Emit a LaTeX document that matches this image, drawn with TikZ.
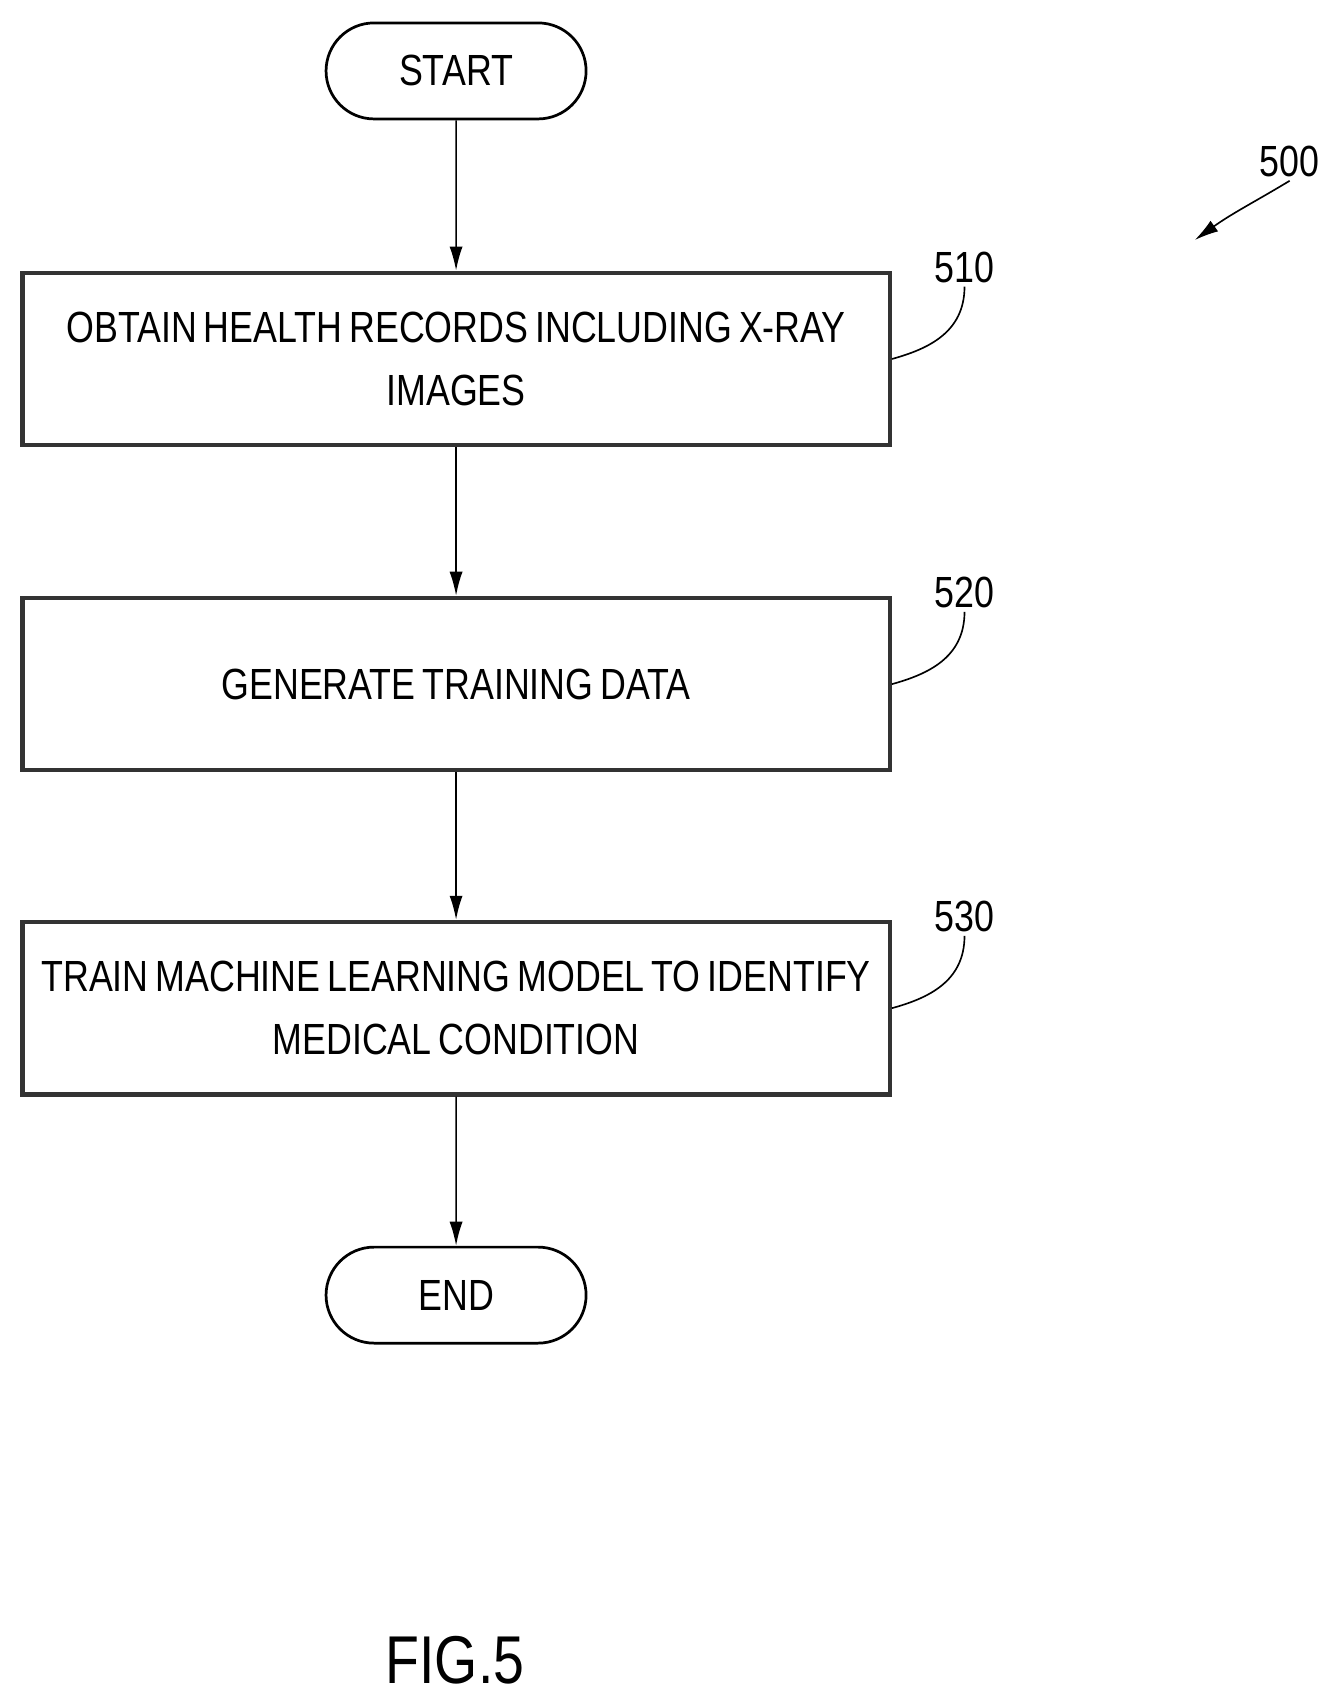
\documentclass[tikz,border=0pt]{standalone}
\usepackage{fontspec}
\setmainfont{Liberation Sans}[FakeStretch=0.82, WordSpace=0.7]
\usetikzlibrary{positioning, arrows.meta, shapes.misc}
\tikzset{
  txt/.style={font=\fontsize{40}{58}\selectfont},
  term/.style={draw, rounded rectangle, line width=2.5pt, minimum width=245pt, minimum height=88pt, txt},
  proc/.style={draw=black!80, line width=4pt, minimum width=795pt, minimum height=158pt, align=center, txt},
  flow/.style={-{Latex[length=22pt,width=12pt]}, line width=1.5pt},
  lead/.style={line width=1.5pt}
}
\begin{document}
\begin{tikzpicture}[x=1pt,y=-1pt]
  \useasboundingbox (0,0) rectangle (1218,1559);
  \node[term] (start) at (418,65) {START};
  \node[proc] (obtain) at (418,329) {OBTAIN HEALTH RECORDS INCLUDING X-RAY\\IMAGES};
  \node[proc] (generate) at (418,627) {GENERATE TRAINING DATA};
  \node[proc] (train) at (418,924) {TRAIN MACHINE LEARNING MODEL TO IDENTIFY\\MEDICAL CONDITION};
  \node[term] (end) at (418,1187) {END};
  \node[txt] (fig) at (417,1522) {\fontsize{62}{70}\selectfont FIG.5};

  \node[txt] (n500) at (1182,148) {500};
  \node[txt] (n510) at (884,245) {510};
  \node[txt] (n520) at (884,543) {520};
  \node[txt] (n530) at (884,840) {530};
  \coordinate (tip500) at (1095,220);

  \draw[flow] (start) -- (obtain);
  \draw[flow] (obtain) -- (generate);
  \draw[flow] (generate) -- (train);
  \draw[flow] (train) -- (end);
  \draw[flow] (n500.south) .. controls (1150,185) and (1130,195) .. (tip500);
  \draw[lead] (n510.south) .. controls (884,305) and (850,320) .. (obtain.east);
  \draw[lead] (n520.south) .. controls (884,603) and (850,618) .. (generate.east);
  \draw[lead] (n530.south) .. controls (884,900) and (850,915) .. (train.east);
\end{tikzpicture}
\end{document}
